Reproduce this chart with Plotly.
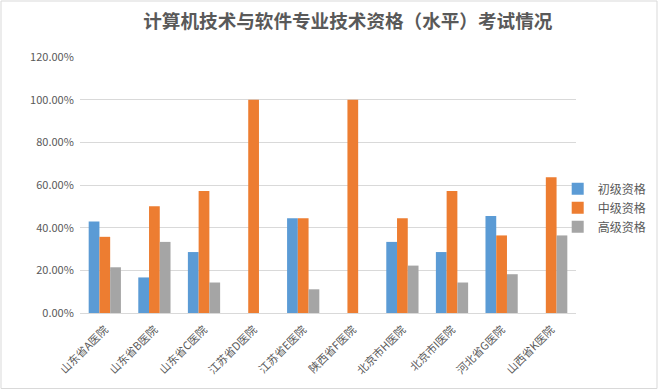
import plotly.graph_objects as go

categories = ["山东省A医院", "山东省B医院", "山东省C医院", "江苏省D医院", "江苏省E医院",
              "陕西省F医院", "北京市H医院", "北京市I医院", "河北省G医院", "山西省K医院"]
junior = [0.4286, 0.1667, 0.2857, None, 0.4444, None, 0.3333, 0.2857, 0.4545, None]
middle = [0.3571, 0.50, 0.5714, 1.00, 0.4444, 1.00, 0.4444, 0.5714, 0.3636, 0.6364]
senior = [0.2143, 0.3333, 0.1429, None, 0.1111, None, 0.2222, 0.1429, 0.1818, 0.3636]
series_names = ["初级资格", "中级资格", "高级资格"]
colors = ["#5B9BD5", "#ED7D31", "#A5A5A5"]
yticks = [0, 0.2, 0.4, 0.6, 0.8, 1.0, 1.2]

font = "Noto Sans CJK SC, Microsoft YaHei, sans-serif"

fig = go.Figure()
for name, vals, c in zip(series_names, [junior, middle, senior], colors):
    fig.add_trace(go.Bar(x=categories, y=vals, name=name, marker_color=c,
                         marker_line_width=0))

fig.update_layout(
    width=660, height=390,
    margin=dict(l=80, r=84, t=57, b=77, autoexpand=False),
    paper_bgcolor="white", plot_bgcolor="white",
    barmode="group", bargap=0.35, bargroupgap=0,
    title=dict(text="<b>计算机技术与软件专业技术资格（水平）考试情况</b>",
               x=0.527, xanchor="center", y=0.945, yanchor="middle",
               font=dict(family=font, size=18.6, color="#595959")),
    font=dict(family=font, color="#595959"),
    legend=dict(xref="container", yref="container", x=0.845, xanchor="left",
                y=0.467, yanchor="middle",
                font=dict(size=12, color="#595959"), tracegroupgap=0,
                itemwidth=30, bgcolor="rgba(0,0,0,0)"),
    xaxis=dict(tickangle=-45, tickfont=dict(size=11, color="#595959"),
               showline=True, linecolor="#D9D9D9", linewidth=1,
               ticks="outside", ticklen=5, tickcolor="rgba(0,0,0,0)",
               showgrid=False, automargin=False),
    yaxis=dict(range=[0, 1.2], tickvals=yticks, tickformat=".2%",
               tickfont=dict(size=11, color="#595959"),
               showgrid=True, gridcolor="#D9D9D9", gridwidth=1,
               zeroline=False, showline=False,
               ticks="outside", ticklen=3, tickcolor="rgba(0,0,0,0)",
               automargin=False),
    shapes=[dict(type="rect", xref="paper", yref="paper",
                 x0=-79/496, x1=1 + 81/496, y0=-75.5/256, y1=1 + 56/256,
                 line=dict(color="#D9D9D9", width=1))],
)

fig.write_html("out.html", config={"displayModeBar": False},
               post_script="document.body.style.margin='0';")
